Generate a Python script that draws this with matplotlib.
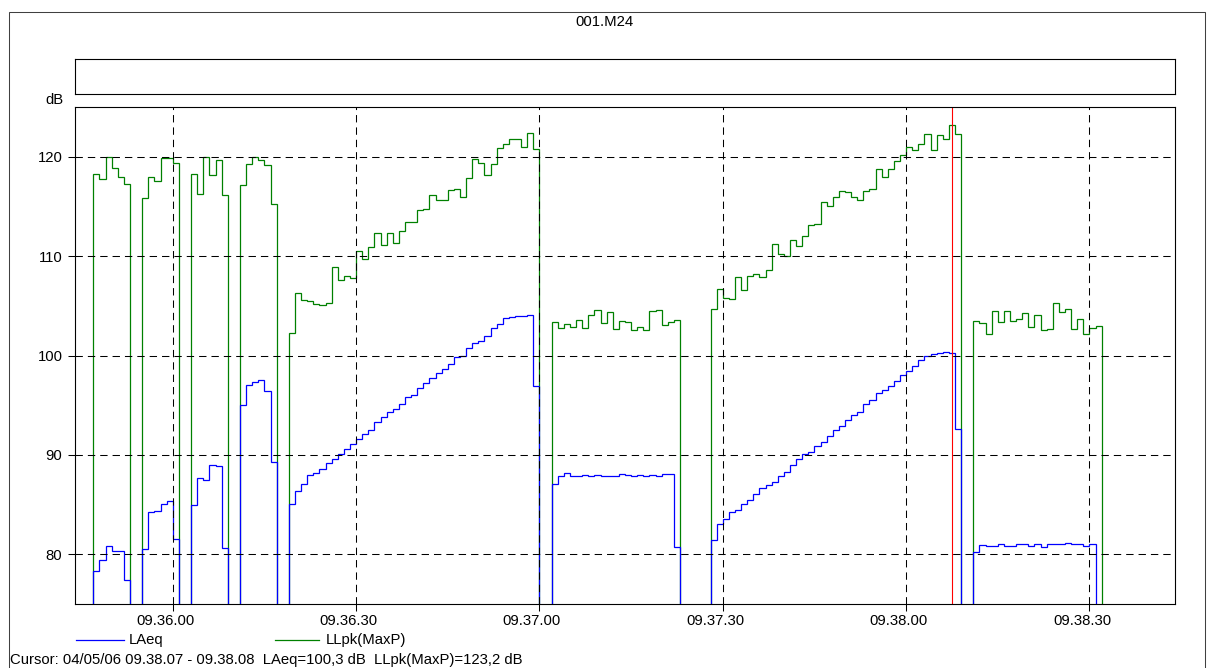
import numpy as np
import matplotlib

matplotlib.use('Agg')
import matplotlib.pyplot as plt
import matplotlib.patches as mpatches
import matplotlib.transforms as mtransforms
from matplotlib.lines import Line2D

# one sample per second, t = seconds after 09.36.00, first sample at 09.35.44
T_START = -16
LOW = None  # below the 75 dB bottom of the scale

pre_gap = [LOW] * 3
gap2 = [LOW] * 2
gap5 = [LOW] * 5
post_gap = [LOW] * 12

llpk_burst1 = [118.3, 117.8, 120.0, 118.9, 118.0, 117.3]
laeq_burst1 = [78.3, 79.4, 80.8, 80.3, 80.3, 77.4]
llpk_burst2 = [115.8, 118.0, 117.6, 119.9, 119.9, 119.4]
laeq_burst2 = [80.5, 84.3, 84.4, 85.1, 85.4, 81.5]
llpk_burst3 = [118.3, 116.2, 120.0, 118.2, 119.7, 116.1]
laeq_burst3 = [85.0, 87.7, 87.5, 89.0, 88.9, 80.6]
llpk_burst4 = [117.2, 119.3, 120.0, 119.7, 119.2, 115.2]
laeq_burst4 = [95.0, 97.0, 97.3, 97.5, 96.4, 89.3]

llpk_ramp1 = [102.3, 106.3, 105.6, 105.5, 105.2, 105.1, 105.3, 108.9, 107.6, 108.0,
              107.8, 110.5, 109.7, 110.9, 112.3, 111.1, 112.3, 111.3, 112.5, 113.4,
              113.4, 114.6, 114.7, 116.1, 115.6, 115.6, 116.6, 116.8, 115.9, 117.9,
              119.8, 119.4, 118.2, 119.3, 120.9, 121.3, 121.8, 121.8, 121.0, 122.4,
              120.8]
laeq_ramp1 = [85.1, 86.4, 87.1, 88.0, 88.2, 88.6, 89.2, 89.6, 90.1, 90.6,
              91.1, 91.6, 92.1, 92.5, 93.3, 93.8, 94.3, 94.6, 95.1, 95.8,
              96.0, 96.7, 97.2, 97.7, 98.2, 98.6, 99.1, 99.8, 100.0, 100.8,
              101.3, 101.5, 102.0, 102.8, 103.2, 103.8, 103.9, 104.0, 104.0, 104.1,
              96.9]

llpk_block2 = [103.4, 102.8, 103.2, 102.9, 103.6, 102.8, 104.1, 104.6, 103.3, 104.4,
               102.7, 103.5, 103.4, 102.6, 102.9, 102.6, 104.5, 104.6, 103.1, 103.4,
               103.6]
laeq_block2 = [87.1, 87.9, 88.15, 87.9, 87.9, 88.0, 87.9, 88.0, 87.9, 87.85,
               87.85, 88.1, 88.0, 87.9, 88.0, 87.9, 88.0, 87.9, 88.05, 88.1,
               80.7]

llpk_ramp2 = [104.7, 106.7, 105.8, 105.7, 107.9, 106.6, 108.0, 108.2, 107.9, 108.6,
              111.2, 110.2, 110.0, 111.6, 111.0, 112.0, 113.1, 113.2, 115.4, 115.0,
              115.9, 116.5, 116.4, 115.9, 115.6, 116.5, 116.8, 118.8, 118.0, 118.8,
              119.6, 120.2, 121.0, 120.7, 121.3, 122.3, 120.7, 122.2, 121.8, 123.2,
              122.3]
laeq_ramp2 = [81.4, 83.0, 83.6, 84.25, 84.5, 85.05, 85.45, 86.05, 86.65, 87.0,
              87.3, 87.9, 88.3, 89.0, 89.6, 90.1, 90.3, 90.9, 91.3, 91.9,
              92.5, 92.9, 93.5, 94.0, 94.3, 95.1, 95.5, 96.2, 96.5, 96.9,
              97.4, 98.0, 98.4, 98.9, 99.5, 100.0, 100.2, 100.3, 100.4, 100.3,
              92.6]

llpk_block3 = [103.5, 103.3, 102.2, 104.5, 103.4, 104.5, 103.5, 103.7, 104.3, 102.9,
               104.1, 102.6, 102.7, 105.3, 104.4, 104.7, 102.7, 103.7, 102.2, 102.8,
               103.0]
laeq_block3 = [80.2, 80.9, 80.8, 80.8, 81.0, 80.8, 80.8, 81.0, 81.0, 80.8,
               81.0, 80.7, 81.0, 81.0, 81.0, 81.1, 81.0, 81.0, 80.8, 81.0,
               LOW]

llpk = (pre_gap + llpk_burst1 + gap2 + llpk_burst2 + gap2 + llpk_burst3 + gap2
        + llpk_burst4 + gap2 + llpk_ramp1 + gap2 + llpk_block2 + gap5
        + llpk_ramp2 + gap2 + llpk_block3 + post_gap)
laeq = (pre_gap + laeq_burst1 + gap2 + laeq_burst2 + gap2 + laeq_burst3 + gap2
        + laeq_burst4 + gap2 + laeq_ramp1 + gap2 + laeq_block2 + gap5
        + laeq_ramp2 + gap2 + laeq_block3 + post_gap)

tick_times = [0, 30, 60, 90, 120, 150]
tick_labels = ['09.36.00', '09.36.30', '09.37.00', '09.37.30', '09.38.00', '09.38.30']
y_ticks = [80, 90, 100, 110, 120]

cursor_time = 127  # 09.38.07 - 09.38.08
title = '001.M24'

W, H = 1207, 668
plt.rcParams['font.family'] = ['Liberation Sans', 'DejaVu Sans']
plt.rcParams['font.size'] = 10.7
plt.rcParams['lines.scale_dashes'] = False


def px(x, y):
    return x / W, 1 - y / H


def to_array(values):
    return np.array([60.0 if v is None else v for v in values])


fig = plt.figure(figsize=(W / 100, H / 100), dpi=100)

# outer frame
fig.patches.append(mpatches.Rectangle(px(8.5, 700), 1196.5 / W, 688.5 / H,
                                      transform=fig.transFigure, fill=False,
                                      edgecolor='#404040', linewidth=0.75))
fig.text(*px(604, 22), title, ha='center', va='center')

# empty band above the plot
band = fig.add_axes([75 / W, 1 - 93.7 / H, 1100 / W, 34.4 / H])
band.set_xticks([])
band.set_yticks([])
for s in band.spines.values():
    s.set_linewidth(0.8)

ax = fig.add_axes([75 / W, 1 - 604 / H, 1100 / W, 497 / H])
edges = np.arange(T_START, T_START + len(llpk) + 1)
ax.stairs(to_array(llpk), edges, baseline=None, color='#008000', linewidth=0.9)
ax.stairs(to_array(laeq), edges, baseline=None, color='#0000ff', linewidth=0.9)
ax.axvline(cursor_time + 0.5, color='#ff0000', linewidth=0.8)

ax.set_xlim(-16, 164)
ax.set_ylim(75, 125)
ax.set_xticks(tick_times)
ax.set_xticklabels(tick_labels)
ax.set_yticks(y_ticks)
ax.grid(True, color='black', linewidth=0.75, linestyle=(0, (5.3, 3.6)))
ax.tick_params(direction='out', length=5, width=0.75, colors='black')
ax.tick_params(axis='x', pad=2.5)
ax.tick_params(axis='y', pad=4)
for s in ax.spines.values():
    s.set_linewidth(0.8)

shift = mtransforms.ScaledTranslation(-7.5 / 100, 0, fig.dpi_scale_trans)
for lab in ax.get_xticklabels():
    lab.set_transform(lab.get_transform() + shift)

fig.text(*px(63, 100), 'dB', ha='right', va='center')

# legend
fig.lines.append(Line2D([76 / W, 124 / W], [1 - 640 / H] * 2, transform=fig.transFigure,
                        color='#0000ff', linewidth=0.9))
fig.text(*px(129, 640), 'LAeq', ha='left', va='center')
fig.lines.append(Line2D([275 / W, 319 / W], [1 - 640 / H] * 2, transform=fig.transFigure,
                        color='#008000', linewidth=0.9))
fig.text(*px(326, 640), 'LLpk(MaxP)', ha='left', va='center')

idx = cursor_time - T_START
cursor_txt = 'Cursor: 04/05/06 09.38.07 - 09.38.08  LAeq=%s dB  LLpk(MaxP)=%s dB' % (
    ('%.1f' % laeq[idx]).replace('.', ','), ('%.1f' % llpk[idx]).replace('.', ','))
fig.text(*px(10, 660), cursor_txt, ha='left', va='center')

fig.savefig('out.png', dpi=100)
